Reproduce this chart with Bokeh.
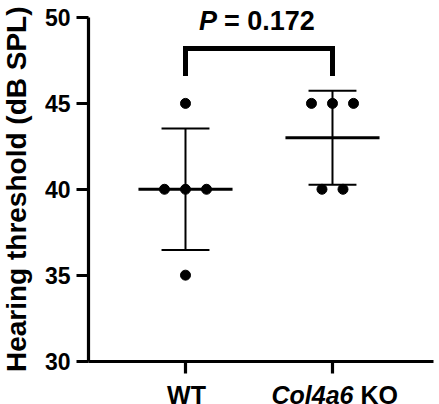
import numpy as np
from math import pi
from bokeh.plotting import figure
from bokeh.models import Range1d, FixedTicker, Label
from bokeh.embed import file_html
from bokeh.resources import INLINE

# ---- data ----
groups = ["WT", "Col4a6 KO"]
group_pos = [1, 2]
wt_values = [45, 40, 40, 40, 35]
ko_values = [45, 45, 45, 40, 40]
y_ticks = [30, 35, 40, 45, 50]
y_title = "Hearing threshold (dB SPL)"
p_label = "0.172"
bracket_bottom = 46.6
bracket_top = 48.2

FONT = "Liberation Sans"

X0, X1 = -0.2585, 2.728
Y0, Y1 = 27.47, 50.99
X_AXIS_START, X_AXIS_END = 0.34, 2.69
Y_AXIS_START, Y_AXIS_END = 30, 50

p = figure(width=439, height=404, output_backend="svg", toolbar_location=None,
           x_range=Range1d(X0, X1), y_range=Range1d(Y0, Y1),
           min_border_left=0, min_border_right=0, min_border_top=0,
           min_border_bottom=0)
p.outline_line_color = None
p.grid.visible = False
p.background_fill_color = "white"
p.border_fill_color = "white"

# axes
for ax in (p.xaxis[0], p.yaxis[0]):
    ax.axis_line_width = 3.2
    ax.axis_line_color = "black"
    ax.major_tick_line_width = 3.2
    ax.major_tick_line_color = "black"
    ax.major_tick_out = 12
    ax.major_tick_in = 0
    ax.minor_tick_line_color = None

p.yaxis.fixed_location = X_AXIS_START
p.yaxis.bounds = (Y_AXIS_START, Y_AXIS_END)
p.yaxis.ticker = FixedTicker(ticks=y_ticks)
p.yaxis.major_label_text_font = FONT
p.yaxis.major_label_text_font_style = "bold"
p.yaxis.major_label_text_font_size = "23px"
p.yaxis.major_label_text_color = "black"
p.yaxis.major_label_standoff = 6

p.xaxis.fixed_location = Y_AXIS_START
p.xaxis.bounds = (X_AXIS_START, X_AXIS_END)
p.xaxis.ticker = FixedTicker(ticks=group_pos)
p.xaxis.major_label_overrides = {g: "" for g in group_pos}
p.xaxis.major_label_text_color = None

# y title
p.add_layout(Label(x=X_AXIS_START, y=(Y_AXIS_START + Y_AXIS_END) / 2,
                   x_offset=-72, angle=pi / 2, text=y_title,
                   text_font=FONT, text_font_style="bold", text_font_size="28px",
                   text_align="center", text_baseline="alphabetic",
                   text_color="black"))

# jittered points
spacing = 0.143
for pos, vals in zip(group_pos, [wt_values, ko_values]):
    vals = np.array(vals, dtype=float)
    xs = np.zeros_like(vals)
    for v in np.unique(vals):
        idx = np.where(vals == v)[0]
        n = len(idx)
        xs[idx] = pos + (np.arange(n) - (n - 1) / 2) * spacing
    p.scatter(xs, vals, marker="circle", size=10, color="black")

    m = vals.mean()
    sd = vals.std(ddof=1)
    # mean line
    p.segment(x0=[pos - 0.32], y0=[m], x1=[pos + 0.32], y1=[m],
              line_width=3, line_color="black")
    # sd bar
    p.segment(x0=[pos], y0=[m - sd], x1=[pos], y1=[m + sd],
              line_width=2, line_color="black")
    p.segment(x0=[pos - 0.163, pos - 0.163], y0=[m - sd, m + sd],
              x1=[pos + 0.163, pos + 0.163], y1=[m - sd, m + sd],
              line_width=2, line_color="black")

# bracket
p.line([group_pos[0], group_pos[0], group_pos[1], group_pos[1]],
       [bracket_bottom, bracket_top, bracket_top, bracket_bottom],
       line_width=5, line_color="black", line_join="miter")

mid = (group_pos[0] + group_pos[1]) / 2
p.add_layout(Label(x=mid, y=bracket_top, x_offset=-42, y_offset=27,
                   text="P", text_font=FONT, text_font_style="bold italic",
                   text_font_size="27px", text_align="right",
                   text_baseline="alphabetic", text_color="black"))
p.add_layout(Label(x=mid, y=bracket_top, x_offset=-35, y_offset=27,
                   text="= " + p_label, text_font=FONT, text_font_style="bold",
                   text_font_size="27px", text_align="left",
                   text_baseline="alphabetic", text_color="black"))

# x category labels
p.add_layout(Label(x=group_pos[0], y=Y_AXIS_START, y_offset=-34, x_offset=1,
                   text=groups[0],
                   text_font=FONT, text_font_style="bold", text_font_size="25px",
                   text_align="center", text_baseline="alphabetic",
                   text_color="black"))
gene, suffix = groups[1].split(" ")
p.add_layout(Label(x=group_pos[1], y=Y_AXIS_START, y_offset=-34, x_offset=21,
                   text=gene,
                   text_font=FONT, text_font_style="bold italic",
                   text_font_size="25px", text_align="right",
                   text_baseline="alphabetic", text_color="black"))
p.add_layout(Label(x=group_pos[1], y=Y_AXIS_START, y_offset=-34, x_offset=28,
                   text=suffix, text_font=FONT, text_font_style="bold",
                   text_font_size="25px", text_align="left",
                   text_baseline="alphabetic", text_color="black"))

open("out.html", "w").write(file_html(p, INLINE))
